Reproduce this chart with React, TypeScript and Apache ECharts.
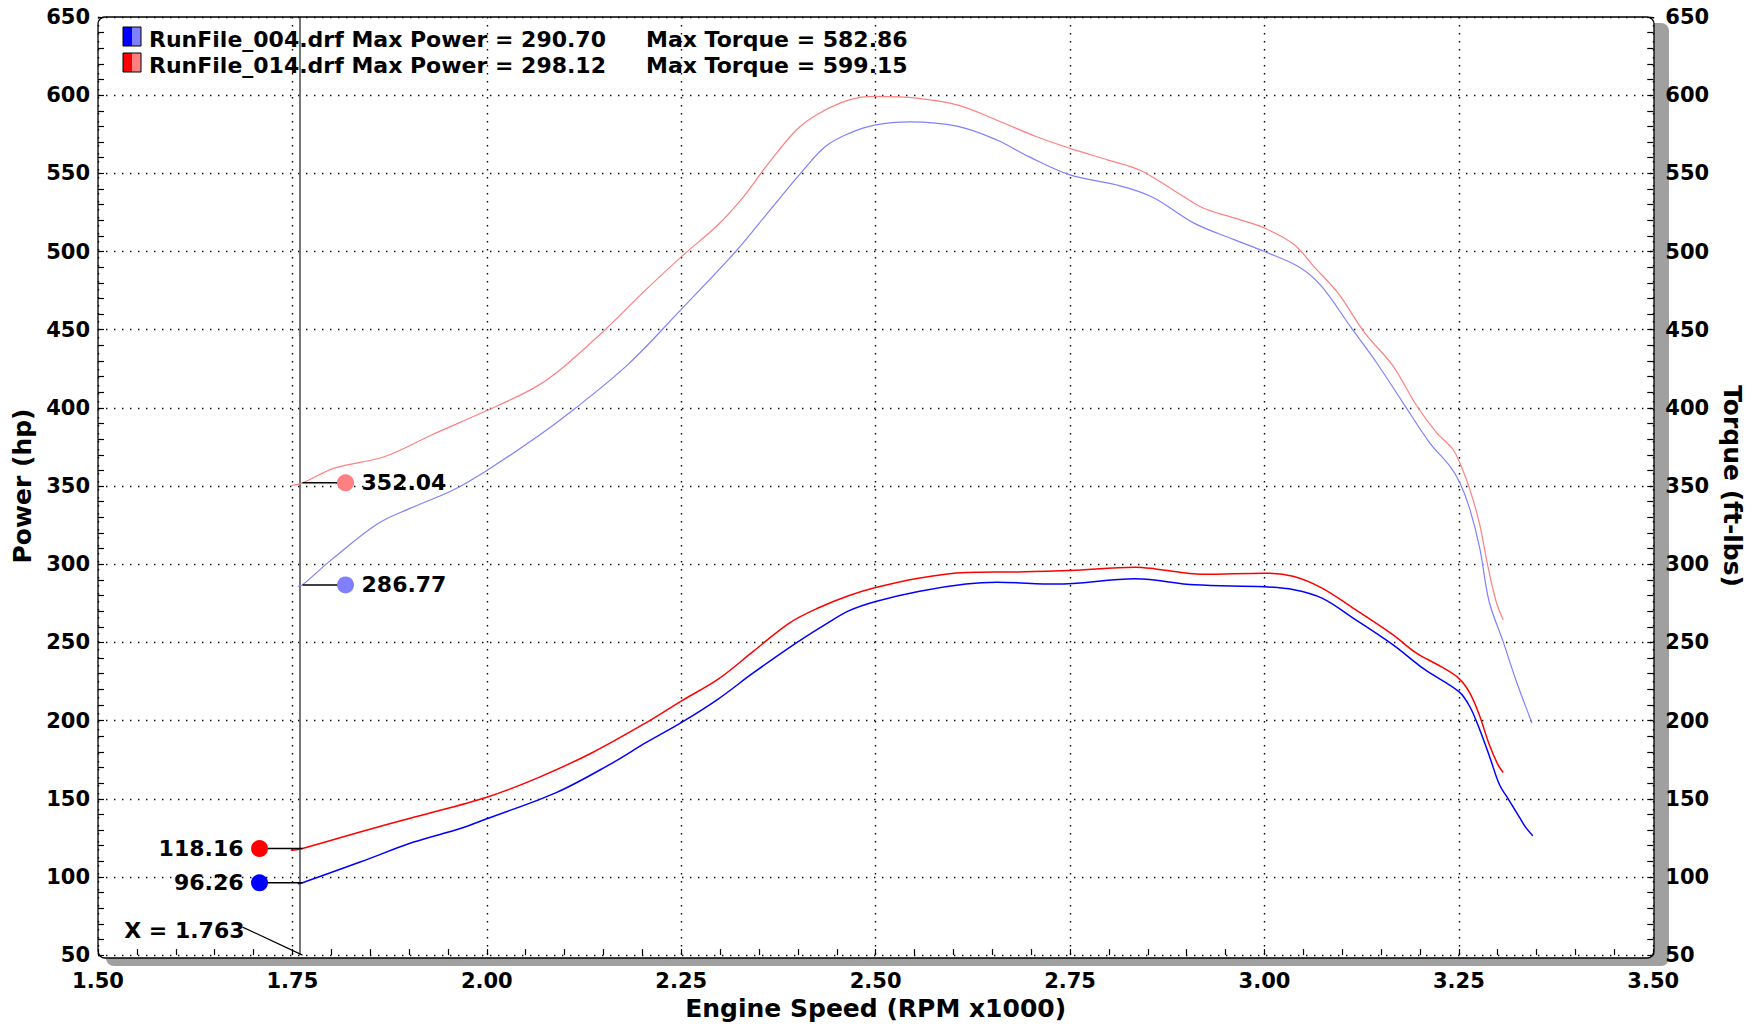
import React, { useEffect, useRef } from "react";
import * as echarts from "echarts";

// ---------- data ----------
const xTicks = { min: 1.5, max: 3.5, step: 0.25 };
const yTicks = { min: 50, max: 650, step: 50 };
const CURSOR_X = 1.763;

const power004: [number, number][] = [
  [1.757, 95.7], [1.763, 96.3], [1.837, 109.5], [1.906, 122.3], [1.965, 130.8], [2.0, 137.2],
  [2.09, 154.1], [2.159, 172.2], [2.205, 186], [2.25, 198.7], [2.297, 213.6], [2.343, 230.6],
  [2.398, 249.7], [2.435, 261.4], [2.466, 270.3], [2.5, 276.2], [2.555, 282.6], [2.616, 287.3],
  [2.656, 288.5], [2.732, 287.3], [2.834, 290.7], [2.91, 286.8], [3.0, 285.6], [3.038, 283.7],
  [3.074, 278.3], [3.114, 265.6], [3.165, 248.6], [3.206, 232.7], [3.25, 218.5], [3.264, 209],
  [3.277, 194], [3.29, 176.3], [3.302, 159.3], [3.315, 148.7], [3.328, 138.1], [3.336, 131.7],
  [3.345, 126.4],
];

const torque004: [number, number][] = [
  [1.757, 285.8], [1.763, 286.8], [1.8, 302.8], [1.86, 326], [1.901, 335.7], [1.956, 347.3],
  [2.0, 360], [2.067, 382.3], [2.113, 399.4], [2.182, 428], [2.25, 463], [2.32, 500],
  [2.361, 524.6], [2.407, 552], [2.435, 567], [2.466, 575.6], [2.5, 581], [2.544, 582.9],
  [2.606, 580], [2.656, 571.3], [2.697, 560.7], [2.75, 549], [2.809, 542.7], [2.855, 535],
  [2.91, 518], [2.961, 507.6], [3.0, 500], [3.045, 490], [3.073, 478], [3.112, 451],
  [3.144, 429], [3.178, 403.4], [3.212, 378], [3.238, 363], [3.251, 352.4], [3.264, 335.4],
  [3.277, 310], [3.289, 276], [3.307, 250.5], [3.324, 225], [3.344, 198.5],
];

const power014: [number, number][] = [
  [1.748, 117], [1.763, 118.2], [1.837, 128.7], [1.906, 138.2], [2.0, 151], [2.067, 163.7],
  [2.136, 179.6], [2.205, 198.7], [2.25, 212.5], [2.297, 226.3], [2.343, 244.4], [2.389, 262.4],
  [2.426, 272], [2.466, 280], [2.5, 285.1], [2.555, 291.1], [2.616, 294.7], [2.682, 295.1],
  [2.75, 296], [2.834, 298.1], [2.86, 297], [2.92, 293.6], [3.0, 294.3], [3.038, 292.1],
  [3.074, 284.7], [3.114, 272], [3.165, 255], [3.195, 243.3], [3.226, 234.8], [3.25, 227],
  [3.264, 217.7], [3.276, 204], [3.289, 184.8], [3.3, 172], [3.307, 166.8],
];

const torque014: [number, number][] = [
  [1.748, 350.2], [1.763, 352.0], [1.804, 361.5], [1.869, 368.9], [1.929, 382.7], [2.0, 398.3],
  [2.058, 412], [2.09, 422.6], [2.15, 449], [2.205, 475.8], [2.25, 496.6], [2.297, 517],
  [2.33, 535], [2.357, 553], [2.398, 577.7], [2.426, 588], [2.466, 597], [2.5, 599.2],
  [2.555, 598], [2.606, 593.6], [2.656, 584], [2.707, 573.4], [2.75, 566], [2.799, 558.5],
  [2.84, 552], [2.886, 538.3], [2.921, 527.8], [2.961, 521.5], [3.0, 515], [3.038, 504.5],
  [3.063, 490.7], [3.094, 473.8], [3.129, 448], [3.165, 427], [3.195, 402], [3.221, 384.3],
  [3.242, 373.7], [3.251, 365], [3.264, 348], [3.277, 325], [3.287, 299.4], [3.298, 276],
  [3.307, 264.5],
];

const runNames = ["RunFile_004.drf", "RunFile_014.drf"];
const maxPower = ["290.70", "298.12"];
const maxTorque = ["582.86", "599.15"];
const darkColors = ["#0000ff", "#ff0000"];
const lightColors = ["#8080ff", "#ff8080"];

const cursorPower = [96.26, 118.16];
const cursorTorque = [286.77, 352.04];

// ---------- layout ----------
const W = 1753;
const H = 1026;
const L = 98;
const T = 17;
const R = 1654;
const B = 958;
const FONT = "'DejaVu Sans', Verdana, sans-serif";
const FS = 21;
const FS_LEGEND = 22;
const FS_NAME = 25;

export default function App() {
  const ref = useRef<HTMLDivElement>(null);

  useEffect(() => {
    if (!ref.current) return;
    const chart = echarts.init(ref.current, undefined, { renderer: "svg" });

    const axisLabel = {
      color: "#000",
      fontFamily: FONT,
      fontWeight: "bold" as const,
      fontSize: FS,
    };
    const nameStyle = {
      color: "#000",
      fontFamily: FONT,
      fontWeight: "bold" as const,
      fontSize: FS_NAME,
    };
    const split = {
      show: true,
      lineStyle: { color: "#000", width: 1.4, type: [1.4, 6.6] as number[] },
    };

    const yAxisBase = (idx: number) => ({
      type: "value" as const,
      min: yTicks.min,
      max: yTicks.max,
      interval: yTicks.step,
      position: idx === 0 ? ("left" as const) : ("right" as const),
      name: idx === 0 ? "Power (hp)" : "Torque (ft-lbs)",
      nameLocation: "middle" as const,
      nameGap: 60,
      nameRotate: idx === 0 ? 90 : -90,
      nameTextStyle: nameStyle,
      axisLine: { show: false },
      axisTick: { show: true, inside: true, length: 6, lineStyle: { color: "#000", width: 1.2 } },
      minorTick: { show: true, splitNumber: 5, length: 6, lineStyle: { color: "#000", width: 1.2 } },
      axisLabel: { ...axisLabel, margin: idx === 0 ? 8 : 12 },
      splitLine: idx === 0 ? split : { show: false },
    });

    const lineSeries = (
      name: string,
      data: [number, number][],
      color: string,
      yAxisIndex: number,
      width: number
    ) => ({
      name,
      type: "line" as const,
      data,
      yAxisIndex,
      smooth: 0.35,
      showSymbol: false,
      symbol: "none",
      lineStyle: { color, width },
      z: 5,
    });

    const option: any = {
      animation: false,
      backgroundColor: "#fff",
      grid: { left: L, top: T, right: W - R, bottom: H - B, containLabel: false },
      xAxis: {
        type: "value",
        min: xTicks.min,
        max: xTicks.max,
        interval: xTicks.step,
        name: "Engine Speed (RPM x1000)",
        nameLocation: "middle",
        nameGap: 38,
        nameTextStyle: nameStyle,
        axisLine: { show: false },
        axisTick: { show: true, inside: true, length: 6, lineStyle: { color: "#000", width: 1.2 } },
        minorTick: { show: true, splitNumber: 5, length: 6, lineStyle: { color: "#000", width: 1.2 } },
        axisLabel: { ...axisLabel, margin: 15, formatter: (v: number) => v.toFixed(2) },
        splitLine: split,
      },
      yAxis: [yAxisBase(0), yAxisBase(1)],
      series: [
        lineSeries("Torque 004", torque004, lightColors[0], 1, 1.2),
        lineSeries("Torque 014", torque014, lightColors[1], 1, 1.2),
        lineSeries("Power 004", power004, darkColors[0], 0, 1.5),
        {
          ...lineSeries("Power 014", power014, darkColors[1], 0, 1.5),
          markLine: {
            silent: true,
            symbol: ["none", "none"],
            label: { show: false },
            lineStyle: { color: "#555", width: 1.6, type: "solid" },
            data: [{ xAxis: CURSOR_X }],
            z: 4,
          },
        },
      ],
    };
    chart.setOption(option);

    const px = (x: number, y: number) =>
      chart.convertToPixel({ xAxisIndex: 0, yAxisIndex: 0 }, [x, y]) as number[];

    const g: any[] = [];
    // frame shadow, background and border
    g.push({
      type: "rect",
      z: -20,
      silent: true,
      shape: { x: L + 8, y: T + 6, width: R - L + 7, height: B - T + 2, r: 8 },
      style: { fill: "#a0a0a0" },
    });
    g.push({
      type: "rect",
      z: -19,
      silent: true,
      shape: { x: L, y: T, width: R - L, height: B - T, r: 7 },
      style: { fill: "#fff" },
    });
    g.push({
      type: "rect",
      z: 30,
      silent: true,
      shape: { x: L, y: T, width: R - L, height: B - T, r: 7 },
      style: { fill: "none", stroke: "#000", lineWidth: 1.3 },
    });

    // legend
    runNames.forEach((name, i) => {
      const rowY = 39 + i * 26;
      g.push({
        type: "rect",
        z: 30,
        shape: { x: 123, y: rowY - 12, width: 18, height: 19 },
        style: {
          fill: new echarts.graphic.LinearGradient(0, 0, 1, 0, [
            { offset: 0, color: darkColors[i] },
            { offset: 0.5, color: darkColors[i] },
            { offset: 0.5, color: lightColors[i] },
            { offset: 1, color: lightColors[i] },
          ]),
          stroke: "#000",
          lineWidth: 1,
        },
      });
      g.push({
        type: "text",
        z: 30,
        x: 149,
        y: rowY,
        style: {
          text: `${name} Max Power = ${maxPower[i]}`,
          font: `bold ${FS_LEGEND}px ${FONT}`,
          fill: "#000",
          align: "left",
          verticalAlign: "middle",
        },
      });
      g.push({
        type: "text",
        z: 30,
        x: 646,
        y: rowY,
        style: {
          text: `Max Torque = ${maxTorque[i]}`,
          font: `bold ${FS_LEGEND}px ${FONT}`,
          fill: "#000",
          align: "left",
          verticalAlign: "middle",
        },
      });
    });

    // cursor markers
    const addMarker = (value: number, color: string, side: number) => {
      const [cx, cy] = px(CURSOR_X, value);
      const mx = cx + side * 43;
      g.push({
        type: "line",
        z: 31,
        shape: { x1: cx, y1: cy, x2: mx, y2: cy },
        style: { stroke: "#000", lineWidth: 1.5 },
      });
      g.push({
        type: "circle",
        z: 32,
        shape: { cx: mx, cy, r: 8.5 },
        style: { fill: color },
      });
      g.push({
        type: "text",
        z: 32,
        x: mx + side * 16,
        y: cy,
        style: {
          text: value.toFixed(2),
          font: `bold ${FS_LEGEND}px ${FONT}`,
          fill: "#000",
          align: side < 0 ? "right" : "left",
          verticalAlign: "middle",
        },
      });
    };
    cursorPower.forEach((v, i) => addMarker(v, darkColors[i], -1));
    cursorTorque.forEach((v, i) => addMarker(v, lightColors[i], 1));

    // cursor readout
    const [bx, by] = px(CURSOR_X, yTicks.min);
    g.push({
      type: "line",
      z: 31,
      shape: { x1: bx - 60, y1: by - 28, x2: bx, y2: by },
      style: { stroke: "#000", lineWidth: 1.2 },
    });
    g.push({
      type: "text",
      z: 32,
      x: bx - 58,
      y: by - 25,
      style: {
        text: `X = ${CURSOR_X.toFixed(3)}`,
        font: `bold ${FS_LEGEND}px ${FONT}`,
        fill: "#000",
        align: "right",
        verticalAlign: "middle",
      },
    });

    chart.setOption({ graphic: g });

    return () => chart.dispose();
  }, []);

  return (
    <div
      ref={ref}
      style={{ position: "fixed", left: 0, top: 0, width: W, height: H, background: "#fff" }}
    />
  );
}
